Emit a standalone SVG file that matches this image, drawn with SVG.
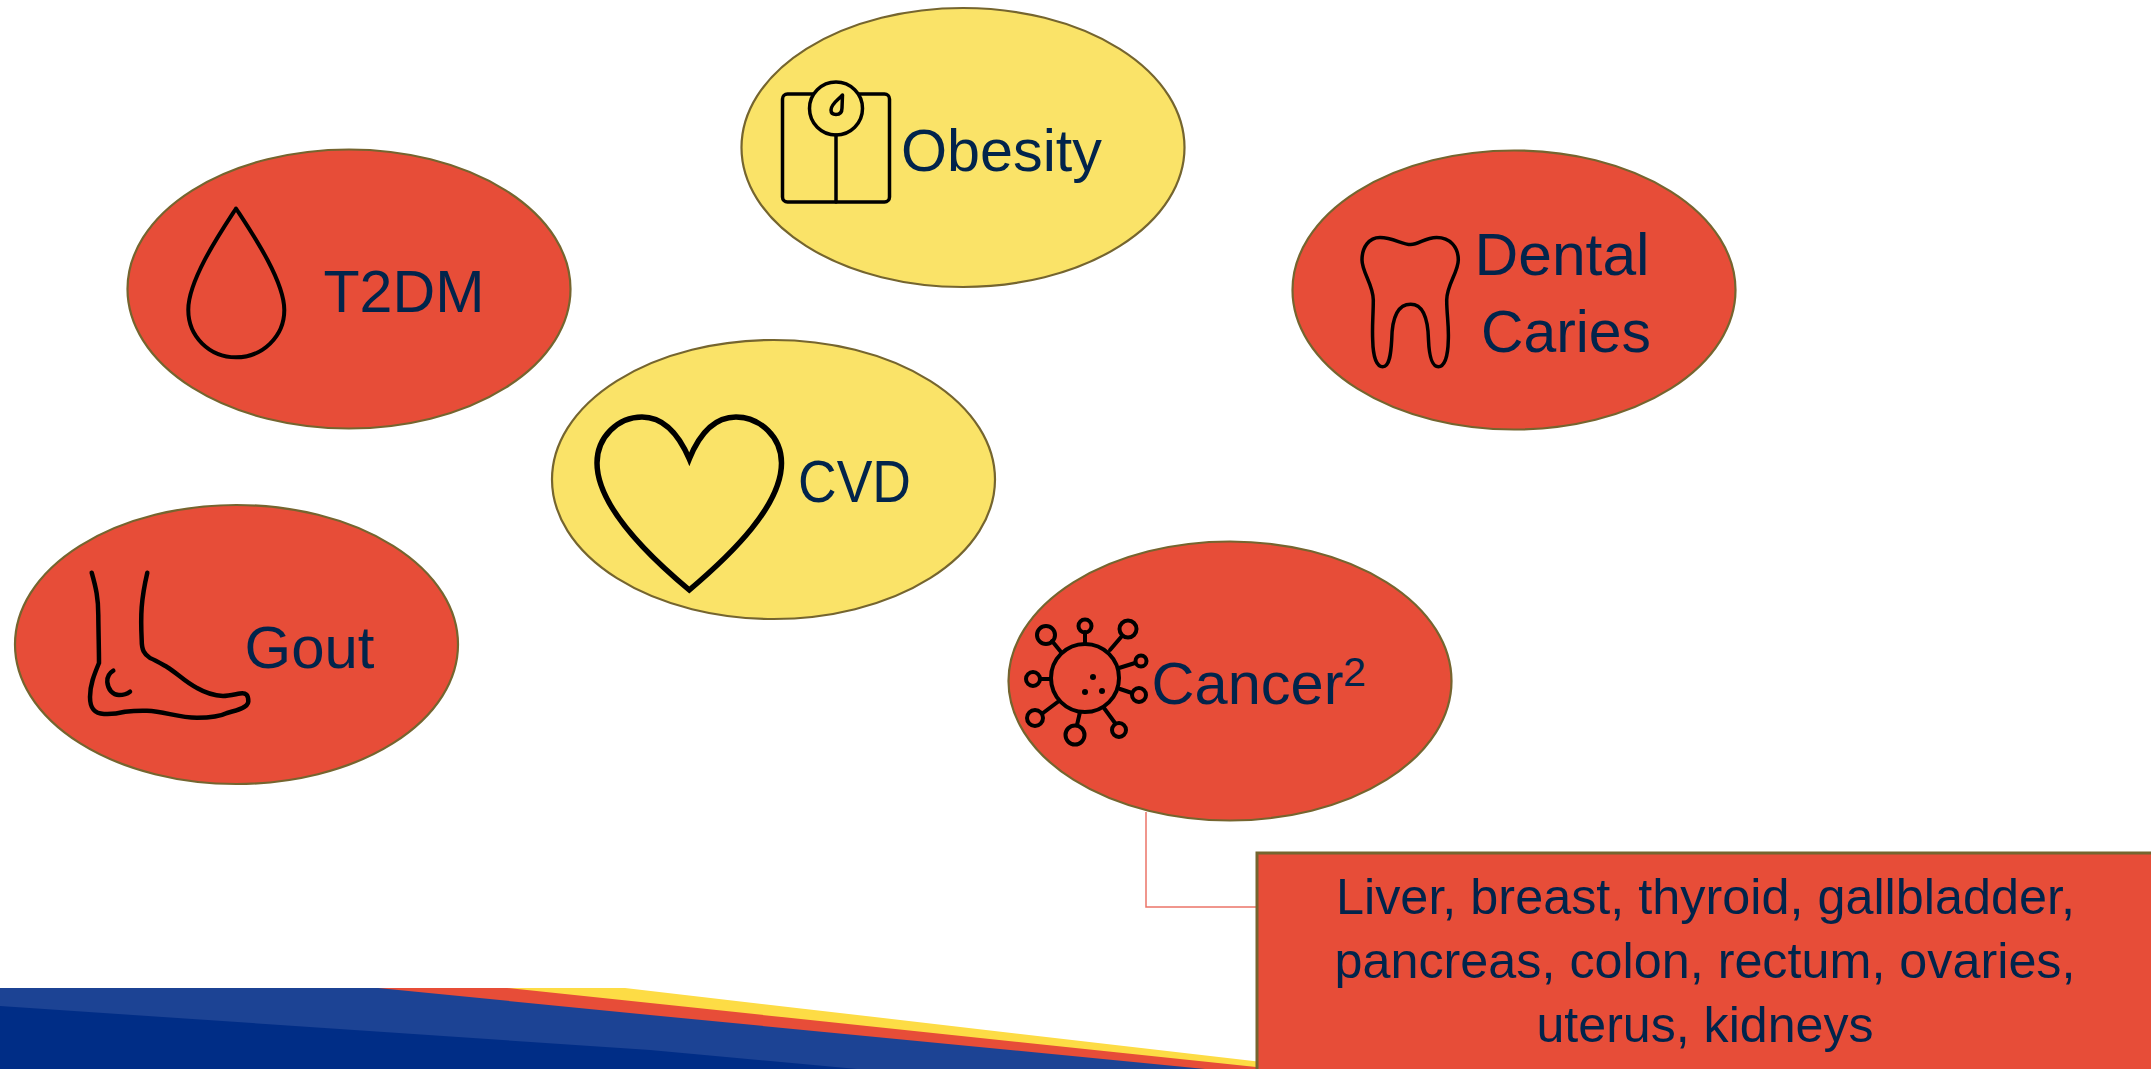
<svg xmlns="http://www.w3.org/2000/svg" width="2151" height="1069" viewBox="0 0 2151 1069">
<style>
.n{stroke:#75652f;stroke-width:2.2}
.r{fill:#e74d38}
.y{fill:#fae368}
.t{font-family:"Liberation Sans",Arial,sans-serif;font-size:60px;fill:#02244b}
.b{font-size:50px}
.i{fill:none;stroke:#000;stroke-width:4;stroke-linejoin:round;stroke-linecap:round}
</style>
<rect width="2151" height="1069" fill="#fff"/>
<g id="banner">
<polygon points="0,988 625,988 1262,1062 1262,1069 0,1069" fill="#fddc45"/>
<polygon points="0,988 507,988 1256,1067 1275,1069 0,1069" fill="#e74d38"/>
<polygon points="0,988 378,988 650,1015 1205,1069 0,1069" fill="#1c4394"/>
<polygon points="0,1006 650,1050 857,1069 0,1069" fill="#002d86"/>
</g>
<g id="connectors"><path d="M1146 812V907H1257" fill="none" stroke="#ec7468" stroke-width="1.5"/></g>
<g id="obesity"><ellipse class="n y" cx="963" cy="147.500" rx="221.500" ry="139.500"/>
<rect class="i" x="782.500" y="94" width="107" height="108" rx="5" style="stroke-width:3.500"/><circle class="y" cx="836" cy="108.500" r="26.500" stroke="#000" stroke-width="3.500"/><path class="i" d="M836 135V202M842.500 95C838 100 831 104 831 110C831 113 833 114.500 836 114.500C840 114.500 842 112 842 108Z" style="stroke-width:3.500"/>
<text class="t" x="901" y="171" textLength="201" lengthAdjust="spacingAndGlyphs">Obesity</text></g>
<g id="t2dm"><ellipse class="n r" cx="349" cy="289" rx="221.500" ry="139.500"/>
<path class="i" d="M236 208.500C222 230 188 280 188.300 310C188.300 336.500 209.500 357.300 236 357.300C262.500 357.300 284.300 336.500 284.300 310C284.300 280 250 230 236 208.500Z"/>
<text class="t" x="323.500" y="312" textLength="161" lengthAdjust="spacingAndGlyphs">T2DM</text></g>
<g id="dental"><ellipse class="n r" cx="1514" cy="290" rx="221.500" ry="139.500"/>
<path class="i" d="M1410.700 244.500C1402 244.500 1393 237.500 1380 237.500C1369 237.500 1362 247 1362 260C1362 272 1373.300 285 1373.300 300C1373.300 315 1372 325 1372.700 340C1373 355 1376 366.700 1382.700 366.700C1390 366.700 1391 352 1391.700 340C1392 318 1398 304.300 1410.700 304.300C1423 304.300 1428 318 1428.500 340C1429 352 1431 366.700 1438.300 366.700C1445 366.700 1448 355 1448.300 340C1449 325 1446.700 315 1446.700 300C1446.700 285 1458.300 272 1458.300 260C1458.300 247 1450 237.500 1436.700 237.500C1425 237.500 1419 244.500 1410.700 244.500Z" style="stroke-width:3.500"/>
<text class="t" x="1474.500" y="275" textLength="175" lengthAdjust="spacingAndGlyphs">Dental</text><text class="t" x="1481" y="352" textLength="170" lengthAdjust="spacingAndGlyphs">Caries</text></g>
<g id="cvd"><ellipse class="n y" cx="773.500" cy="479.500" rx="221.500" ry="139.500"/>
<path class="i" d="M689.300 590C645 553 597 505 597 463C597 437 618 417 642 417C664 417 679 435 689.300 459C699 435 714 417 736 417C760 417 781.500 437 781.500 463C781.500 505 733 553 689.300 590Z" style="stroke-width:5.500;stroke-linejoin:miter"/>
<text class="t" x="798" y="502" textLength="113" lengthAdjust="spacingAndGlyphs">CVD</text></g>
<g id="gout"><ellipse class="n r" cx="236.500" cy="644.500" rx="221.500" ry="139.500"/>
<path class="i" d="M91.700 572.700C96 588 98.300 598 98.300 615C98.500 635 99 650 99 663C94 675 90 685 90 697C90 708 94 713.500 104 714C112 714.500 118 713.500 125 711.700C135 710.500 140 710.500 147 710.700C165 711.500 178 717.700 197 717.700C210 717.700 220 716.500 227 713C235 711 248 708 248.300 701.700C248.500 695 246 692.500 240 693.500C232 695 228 696 223 696C212 695.500 204 692 197 688C185 682 177 673 167 667C160 663 155 660 150 658C144 654 141.700 650 141.700 640C140.500 615 141 600 147.300 572.700M113.300 670.700C108 674 107 678 107.300 682C108 690 113 695 119 695C124 695 127 694 130 691.700" style="stroke-width:4.500"/>
<text class="t" x="244.500" y="668" textLength="130" lengthAdjust="spacingAndGlyphs">Gout</text></g>
<g id="cancer"><ellipse class="n r" cx="1230" cy="681" rx="221.500" ry="139.500"/>
<g class="i"><circle cx="1085" cy="678" r="34"/><circle cx="1046" cy="635" r="9"/><circle cx="1085" cy="626" r="6.500"/><circle cx="1128" cy="629" r="8.500"/><circle cx="1141" cy="661" r="5.500"/><circle cx="1139" cy="695" r="7"/><circle cx="1119" cy="730" r="7"/><circle cx="1075" cy="735" r="9.500"/><circle cx="1035" cy="718" r="8"/><circle cx="1033" cy="679" r="7"/>
<path d="M1052 641L1061 652M1085 632V643M1122 636L1110 650M1135 663L1119 668M1132 693L1120 689M1115 723L1104 708M1077 725L1080 712M1043 713L1059 701M1040 679H1051"/></g>
<circle cx="1093" cy="677" r="3"/><circle cx="1085" cy="692" r="3"/><circle cx="1102" cy="691" r="3"/>
<text class="t" x="1151.500" y="704" textLength="192" lengthAdjust="spacingAndGlyphs">Cancer</text><text class="t" x="1343" y="686" style="font-size:40px" textLength="23" lengthAdjust="spacingAndGlyphs">2</text></g>
<g id="cancer-detail"><rect class="n r" x="1257" y="853" width="900" height="230" style="stroke-width:3"/>
<text class="t b" x="1336" y="914" textLength="739" lengthAdjust="spacingAndGlyphs">Liver, breast, thyroid, gallbladder,</text>
<text class="t b" x="1334.500" y="978" textLength="741" lengthAdjust="spacingAndGlyphs">pancreas, colon, rectum, ovaries,</text>
<text class="t b" x="1536.500" y="1042" textLength="337" lengthAdjust="spacingAndGlyphs">uterus, kidneys</text></g>
</svg>
